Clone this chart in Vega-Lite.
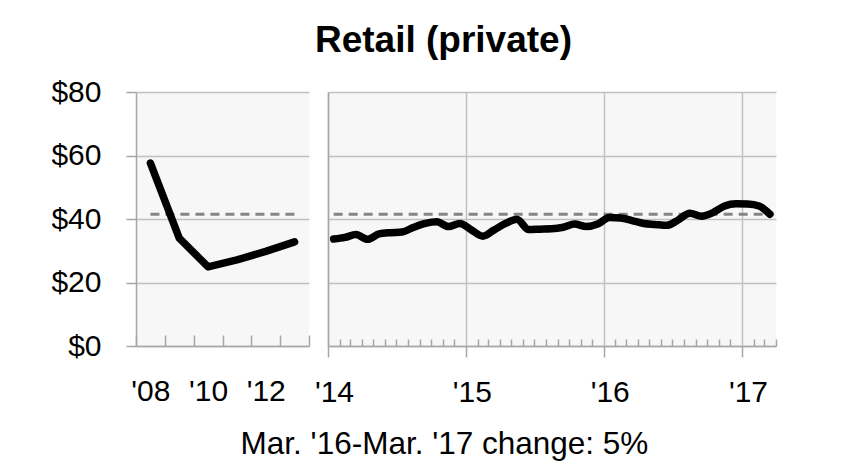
{
  "$schema": "https://vega.github.io/schema/vega-lite/v6.json",
  "background": "white",
  "padding": {"left": 50, "top": 22, "right": 10, "bottom": 5},
  "title": {"text": "Retail (private)", "font": "Liberation Sans", "fontSize": 37, "fontWeight": "bold", "color": "black", "anchor": "middle", "offset": 17, "dx": 27},
  "config": {
    "view": {"fill": "#f7f7f7", "stroke": null},
    "axis": {
      "labelFont": "Liberation Sans", "labelFontSize": 30, "labelColor": "black",
      "domainColor": "#a6a6a6", "domainWidth": 1.5, "tickColor": "#a6a6a6", "tickWidth": 1.5,
      "gridColor": "#c0c0c0", "gridWidth": 1.5, "title": null
    }
  },
  "vconcat": [
    {
      "title": {"text": "Mar. '16-Mar. '17 change: 5%", "orient": "bottom", "font": "Liberation Sans", "fontSize": 31.5, "fontWeight": "normal", "color": "black", "anchor": "middle", "offset": 22, "dx": 28},
      "bounds": "flush",
      "spacing": 19,
      "hconcat": [
        {
          "width": 173,
          "height": 254,
          "data": {"values": [
            {"year": 2008, "value": 57.6},
            {"year": 2009, "value": 34.0},
            {"year": 2010, "value": 24.9},
            {"year": 2011, "value": 27.1},
            {"year": 2012, "value": 29.8},
            {"year": 2013, "value": 32.8}
          ]},
          "layer": [
            {
              "data": {"values": [{"from": 2008, "to": 2013, "ref": 41.5}]},
              "mark": {"type": "rule", "color": "#858585", "strokeWidth": 3, "strokeDash": [9, 6]},
              "encoding": {
                "x": {"field": "from", "type": "quantitative"},
                "x2": {"field": "to"},
                "y": {"field": "ref", "type": "quantitative"}
              }
            },
            {
              "mark": {"type": "line", "color": "black", "strokeWidth": 7.5, "strokeCap": "round", "strokeJoin": "round"},
              "encoding": {
                "x": {"field": "year", "type": "quantitative"},
                "y": {"field": "value", "type": "quantitative"}
              }
            }
          ],
          "encoding": {
            "x": {"field": "year", "type": "quantitative",
              "scale": {"domain": [2007.5, 2013.5], "nice": false, "zero": false},
              "axis": {"values": [2007.5, 2008.5, 2009.5, 2010.5, 2011.5, 2012.5, 2013.5],
                "tickSize": {"condition": {"test": "datum.value > 3000", "value": 11}, "value": -11},
                "grid": true,
                "gridOpacity": {"condition": {"test": "datum.value > 3000", "value": 1}, "value": 0},
                "labelAngle": 0, "labelPadding": 41,
                "labelOffset": 14.4, "labelFlush": false, "labelOverlap": false,
                "labelExpr": "((datum.value + 0.5) % 2 == 0 && datum.value < 2013) ? \"'\" + format(datum.value + 0.5 - 2000, '02d') : ''"}},
            "y": {"field": "value", "type": "quantitative",
              "scale": {"domain": [0, 80], "nice": false},
              "axis": {"values": [0, 20, 40, 60, 80], "format": "$.0f", "tickSize": 10, "labelPadding": 25, "grid": true}}
          }
        },
        {
          "width": 448,
          "height": 254,
          "layer": [
            {
              "data": {"values": [{"start": "2014-01-16", "end": "2017-03-16", "ref": 41.5}]},
              "mark": {"type": "rule", "color": "#858585", "strokeWidth": 3, "strokeDash": [9, 6]},
              "encoding": {
                "x": {"field": "start", "type": "temporal"},
                "x2": {"field": "end"},
                "y": {"field": "ref", "type": "quantitative"}
              }
            },
            {
              "data": {"values": [
                {"date": "2014-01-16", "value": 33.7},
                {"date": "2014-02-15", "value": 34.2},
                {"date": "2014-03-16", "value": 35.1},
                {"date": "2014-04-16", "value": 33.6},
                {"date": "2014-05-16", "value": 35.3},
                {"date": "2014-06-16", "value": 35.7},
                {"date": "2014-07-16", "value": 35.9},
                {"date": "2014-08-16", "value": 37.4},
                {"date": "2014-09-16", "value": 38.6},
                {"date": "2014-10-16", "value": 39.1},
                {"date": "2014-11-16", "value": 37.6},
                {"date": "2014-12-16", "value": 38.6},
                {"date": "2015-01-16", "value": 36.5},
                {"date": "2015-02-15", "value": 34.6},
                {"date": "2015-03-16", "value": 36.5},
                {"date": "2015-04-16", "value": 38.6},
                {"date": "2015-05-16", "value": 39.9},
                {"date": "2015-06-16", "value": 36.7},
                {"date": "2015-07-16", "value": 36.8},
                {"date": "2015-08-16", "value": 36.9},
                {"date": "2015-09-16", "value": 37.4},
                {"date": "2015-10-16", "value": 38.4},
                {"date": "2015-11-16", "value": 37.6},
                {"date": "2015-12-16", "value": 38.4},
                {"date": "2016-01-16", "value": 40.5},
                {"date": "2016-02-15", "value": 40.3},
                {"date": "2016-03-16", "value": 39.5},
                {"date": "2016-04-16", "value": 38.6},
                {"date": "2016-05-16", "value": 38.3},
                {"date": "2016-06-16", "value": 38.0},
                {"date": "2016-07-16", "value": 39.7},
                {"date": "2016-08-16", "value": 41.8},
                {"date": "2016-09-16", "value": 40.9},
                {"date": "2016-10-16", "value": 42.0},
                {"date": "2016-11-16", "value": 44.1},
                {"date": "2016-12-16", "value": 44.8},
                {"date": "2017-01-16", "value": 44.7},
                {"date": "2017-02-15", "value": 44.1},
                {"date": "2017-03-16", "value": 41.5}
              ]},
              "mark": {"type": "line", "color": "black", "strokeWidth": 7.5, "strokeCap": "round", "strokeJoin": "round", "interpolate": "monotone"},
              "encoding": {
                "x": {"field": "date", "type": "temporal"},
                "y": {"field": "value", "type": "quantitative"}
              }
            }
          ],
          "encoding": {
            "x": {"field": "date", "type": "temporal",
              "scale": {"type": "utc", "domain": [{"year": 2014, "month": 1, "date": 1, "utc": true}, {"year": 2017, "month": 4, "date": 1, "utc": true}]},
              "axis": {
                "tickCount": {"interval": "month", "step": 1},
                "tickSize": {"condition": {"test": "utcmonth(datum.value) === 0", "value": 11}, "value": -7},
                "grid": true,
                "gridOpacity": {"condition": {"test": "utcmonth(datum.value) === 0", "value": 1}, "value": 0},
                "labelExpr": "utcmonth(datum.value) === 0 ? \"'\" + utcFormat(datum.value, '%y') : ''",
                "labelOverlap": false, "labelFlush": false, "labelOffset": 6, "labelPadding": 20, "labelAngle": 0
              }},
            "y": {"field": "value", "type": "quantitative",
              "scale": {"domain": [0, 80], "nice": false},
              "axis": {"values": [0, 20, 40, 60, 80], "labels": false, "ticks": false, "grid": true, "domain": true}}
          }
        }
      ]
    }
  ]
}
